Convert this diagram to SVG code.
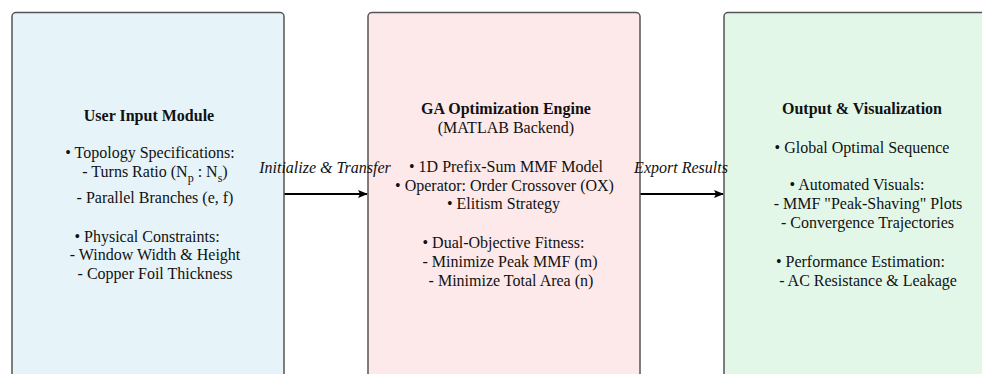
<svg xmlns="http://www.w3.org/2000/svg" width="982" height="374" viewBox="0 0 982 374">
<style>
.box{stroke:#555;stroke-width:1.5}
text{font-family:"Liberation Serif","Times New Roman",serif;font-size:16px;fill:#111;text-anchor:middle}
.t{font-weight:bold}
.lbl{font-style:italic}
.sub{font-size:12px}
</style>
<defs>
<marker id="ah" markerWidth="10" markerHeight="8" refX="9" refY="4" orient="auto" markerUnits="userSpaceOnUse">
<path d="M0,0 L10,4 L0,8 L2,4 Z" fill="#000"/>
</marker>
</defs>
<g id="connectors">
<line x1="284" y1="194" x2="367" y2="194" stroke="#000" stroke-width="2" marker-end="url(#ah)"/>
<line x1="640" y1="194" x2="723" y2="194" stroke="#000" stroke-width="2" marker-end="url(#ah)"/>
</g>
<g id="user-input">
<rect class="box" x="12" y="12.5" width="272" height="380" rx="4" fill="#e6f4fa"/>
<text class="t" x="149" y="121">User Input Module</text>
<text x="150" y="158">• Topology Specifications:</text>
<text x="155" y="177">- Turns Ratio (N<tspan class="sub" dy="5">p</tspan><tspan dy="-5"> : N</tspan><tspan class="sub" dy="5">s</tspan><tspan dy="-5">)</tspan></text>
<text x="155" y="203">- Parallel Branches (e, f)</text>
<text x="147" y="242">• Physical Constraints:</text>
<text x="155" y="260">- Window Width &amp; Height</text>
<text x="155" y="279">- Copper Foil Thickness</text>
</g>
<g id="ga-engine">
<rect class="box" x="368" y="12.5" width="272" height="380" rx="4" fill="#fde9ea"/>
<text class="t" x="506" y="114">GA Optimization Engine</text>
<text x="506" y="133">(MATLAB Backend)</text>
<text x="506" y="172">• 1D Prefix-Sum MMF Model</text>
<text x="504.5" y="191">• Operator: Order Crossover (OX)</text>
<text x="503.5" y="209">• Elitism Strategy</text>
<text x="503.5" y="248">• Dual-Objective Fitness:</text>
<text x="510" y="267">- Minimize Peak MMF (m)</text>
<text x="511" y="286">- Minimize Total Area (n)</text>
</g>
<g id="output">
<rect class="box" x="724" y="12.5" width="272" height="380" rx="4" fill="#e3f7e9"/>
<text class="t" x="862" y="114">Output &amp; Visualization</text>
<text x="862" y="153">• Global Optimal Sequence</text>
<text x="857" y="190">• Automated Visuals:</text>
<text x="868" y="209">- MMF "Peak-Shaving" Plots</text>
<text x="867.5" y="228">- Convergence Trajectories</text>
<text x="860.5" y="267">• Performance Estimation:</text>
<text x="868" y="286">- AC Resistance &amp; Leakage</text>
</g>
<g id="labels">
<text class="lbl" x="325" y="173">Initialize &amp; Transfer</text>
<text class="lbl" x="681" y="173">Export Results</text>
</g>
</svg>
